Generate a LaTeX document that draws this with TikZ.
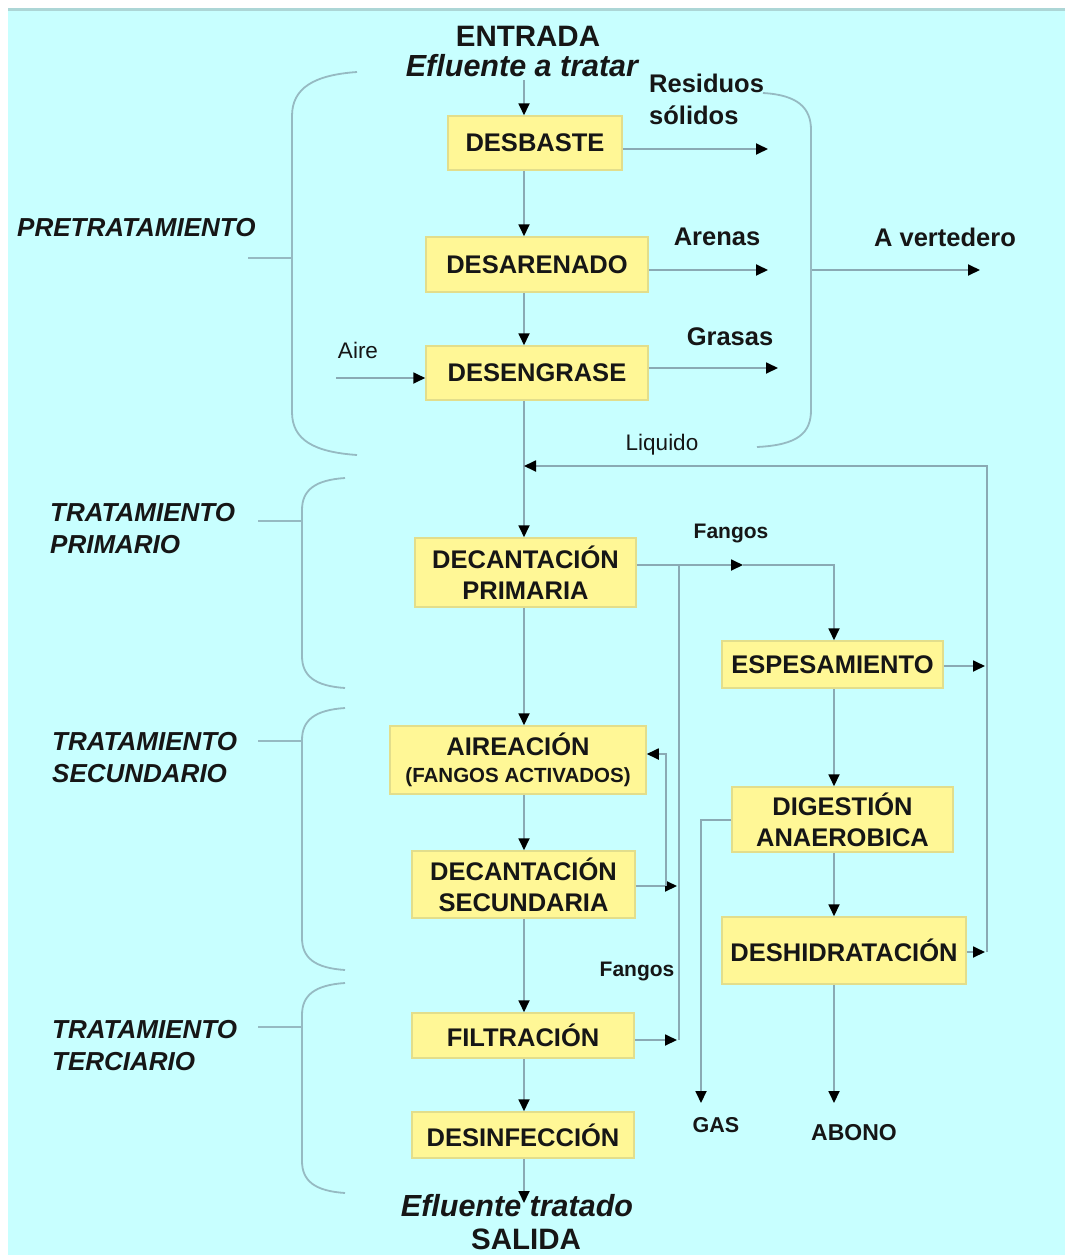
\documentclass[tikz,border=0pt]{standalone}
\usepackage{fontspec}
\setmainfont{Liberation Sans}
\usetikzlibrary{arrows.meta}
\definecolor{bgc}{RGB}{200,255,255}
\definecolor{topc}{RGB}{172,214,214}
\definecolor{boxfill}{RGB}{255,247,150}
\definecolor{boxedge}{RGB}{226,222,140}
\definecolor{linec}{RGB}{138,170,180}
\definecolor{bracec}{RGB}{150,186,194}
\definecolor{txt}{RGB}{22,22,22}
\begin{document}
\begin{tikzpicture}[x=1pt,y=-1pt,
  box/.style={draw=boxedge, line width=1.5pt, fill=boxfill, inner sep=0pt, align=center, text=txt,
    font=\fontsize{25.5}{31}\selectfont\bfseries},
  conn/.style={draw=linec, line width=1.8pt},
  arr/.style={conn, -{Triangle[length=12pt,width=11pt,color=black]}},
  brace/.style={draw=bracec, line width=1.8pt},
  lab/.style={inner sep=0pt, text=txt, font=\fontsize{25.5}{32}\selectfont\bfseries},
  labr/.style={inner sep=0pt, text=txt, font=\fontsize{22.5}{26}\selectfont},
  labs/.style={inner sep=0pt, text=txt, font=\fontsize{21}{26}\selectfont\bfseries},
  stage/.style={inner sep=0pt, text=txt, anchor=west, align=left, font=\fontsize{26}{32}\selectfont\bfseries\itshape},
  title/.style={inner sep=0pt, text=txt, font=\fontsize{29.5}{34}\selectfont\bfseries},
  eff/.style={inner sep=0pt, text=txt, font=\fontsize{30.5}{34}\selectfont\bfseries\itshape}
]
\useasboundingbox (0,0) rectangle (1065,1255);
\fill[white] (0,0) rectangle (1065,1255);
\fill[bgc] (8,8) rectangle (1065,1255);
\fill[topc] (8,8) rectangle (1065,11);

% ---------- boxes ----------
\node[box, minimum width=174pt, minimum height=54pt] (desbaste) at (535,143) {DESBASTE};
\node[box, minimum width=222pt, minimum height=55pt] (desarenado) at (537,264.5) {DESARENADO};
\node[box, minimum width=222pt, minimum height=54pt] (desengrase) at (537,373) {DESENGRASE};
\node[box, minimum width=221pt, minimum height=69pt] (decprim) at (525.5,572.5) {DECANTACIÓN\\PRIMARIA};
\node[box, minimum width=256pt, minimum height=68pt] (aireacion) at (518,760) {AIREACIÓN\\[-4pt]{\fontsize{20.5}{24}\selectfont (FANGOS ACTIVADOS)}};
\node[box, minimum width=223pt, minimum height=67pt] (decsec) at (523.5,884.5) {DECANTACIÓN\\SECUNDARIA};
\node[box, minimum width=222pt, minimum height=45pt] (filtracion) at (523,1035.5) {FILTRACIÓN};
\node[box, minimum width=222pt, minimum height=46pt] (desinfeccion) at (523,1135) {DESINFECCIÓN};
\node[box, minimum width=221pt, minimum height=47pt] (espesamiento) at (832.5,664.5) {ESPESAMIENTO};
\node[box, minimum width=221pt, minimum height=65pt] (digestion) at (842.5,819.5) {DIGESTIÓN\\ANAEROBICA};
\node[box, minimum width=244pt, minimum height=67pt] (deshidratacion) at (844,950.5) {DESHIDRATACIÓN};

% ---------- coordinates ----------
\coordinate (mx) at (524,0);
\coordinate (in) at (524,80);
\coordinate (r1) at (768,149);
\coordinate (r2) at (768,270);
\coordinate (r3) at (778,368);
\coordinate (vb) at (811,270);
\coordinate (ve) at (980,270);
\coordinate (airein) at (336,378);
\coordinate (liqL) at (524,466);
\coordinate (liqR) at (987,466);
\coordinate (liqB) at (987,952);
\coordinate (fa) at (743,565);
\coordinate (fb) at (834,565);
\coordinate (fv1) at (679,565);
\coordinate (fv2) at (679,1040);
\coordinate (dsa) at (677,886);
\coordinate (fia) at (677,1040);
\coordinate (rc1) at (666,886);
\coordinate (rc2) at (666,754);
\coordinate (espa) at (985,666);
\coordinate (desha) at (985,952);
\coordinate (g1) at (701,820);
\coordinate (g2) at (701,1103);
\coordinate (ab) at (834,1103);
\coordinate (outp) at (524,1203);

% ---------- connectors: main line ----------
\draw[arr] (in) -- (in |- desbaste.north);
\draw[arr] (desbaste.south -| mx) -- (desarenado.north -| mx);
\draw[arr] (desarenado.south -| mx) -- (desengrase.north -| mx);
\draw[arr] (desengrase.south -| mx) -- (decprim.north -| mx);
\draw[arr] (decprim.south -| mx) -- (aireacion.north -| mx);
\draw[arr] (aireacion.south -| mx) -- (decsec.north -| mx);
\draw[arr] (decsec.south -| mx) -- (filtracion.north -| mx);
\draw[arr] (filtracion.south -| mx) -- (desinfeccion.north -| mx);
\draw[arr] (desinfeccion.south -| mx) -- (outp);

% pretreatment outputs
\draw[arr] (desbaste.east |- r1) -- (r1);
\draw[arr] (desarenado.east |- r2) -- (r2);
\draw[arr] (desengrase.east |- r3) -- (r3);
\draw[arr] (vb) -- (ve);
\draw[arr] (airein) -- (desengrase.west |- airein);

% liquid return
\draw[arr] (liqB) -- (liqR) -- (liqL);
\draw[arr] (espesamiento.east |- espa) -- (espa);
\draw[arr] (deshidratacion.east |- desha) -- (desha);

% sludge line
\draw[arr] (decprim.east |- fa) -- (fa);
\draw[arr] (fa) -- (fb) -- (espesamiento.north -| fb);
\draw[conn] (fv1) -- (fv2);
\draw[arr] (decsec.east |- dsa) -- (dsa);
\draw[arr] (filtracion.east |- fia) -- (fia);
\draw[arr] (rc1) -- (rc2) -- (aireacion.east |- rc2);
\draw[arr] (espesamiento.south -| fb) -- (digestion.north -| fb);
\draw[arr] (digestion.south -| fb) -- (deshidratacion.north -| fb);
\draw[arr] (deshidratacion.south -| fb) -- (ab);
\draw[arr] (digestion.west |- g1) -- (g1) -- (g2);

% ---------- braces ----------
\coordinate (bp1) at (357,72);
\coordinate (bp2) at (357,455);
\coordinate (tp1) at (248,258);
\coordinate (tp2) at (292,258);
\draw[brace] (bp1) .. controls (314,75) and (292,88) .. (292,116) -- (292,412) .. controls (292,440) and (314,452) .. (bp2);
\draw[brace] (tp1) -- (tp2);

\coordinate (rb1) at (763,93);
\coordinate (rb2) at (757,447);
\draw[brace] (rb1) .. controls (798,95) and (811,108) .. (811,130) -- (811,410) .. controls (811,433) and (798,445) .. (rb2);

\coordinate (b11) at (345,478);
\coordinate (b12) at (345,688);
\coordinate (t11) at (258,521);
\coordinate (t12) at (302,521);
\draw[brace] (b11) .. controls (315,480) and (302,490) .. (302,510) -- (302,656) .. controls (302,676) and (315,686) .. (b12);
\draw[brace] (t11) -- (t12);

\coordinate (b21) at (345,708);
\coordinate (b22) at (345,970);
\coordinate (t21) at (258,741);
\coordinate (t22) at (302,741);
\draw[brace] (b21) .. controls (315,710) and (302,720) .. (302,740) -- (302,938) .. controls (302,958) and (315,968) .. (b22);
\draw[brace] (t21) -- (t22);

\coordinate (b31) at (345,983);
\coordinate (b32) at (345,1193);
\coordinate (t31) at (258,1027);
\coordinate (t32) at (302,1027);
\draw[brace] (b31) .. controls (315,985) and (302,995) .. (302,1015) -- (302,1161) .. controls (302,1181) and (315,1191) .. (b32);
\draw[brace] (t31) -- (t32);

% ---------- texts ----------
\node[title] (entrada) at (528,36) {ENTRADA};
\node[eff] (eflin) at (522,66) {Efluente a tratar};
\node[eff] (eflout) at (517,1206) {Efluente tratado};
\node[title] (salida) at (526,1239) {SALIDA};

\node[lab, anchor=west, align=left] (residuos) at (649,99) {Residuos\\sólidos};
\node[lab] (arenas) at (717,237) {Arenas};
\node[lab] (grasas) at (730,337) {Grasas};
\node[lab] (vertedero) at (945,237) {A vertedero};
\node[labr] (aire) at (358,350) {Aire};
\node[labr] (liquido) at (662,445) {Liquido};
\node[labs] (fangos1) at (731,533) {Fangos};
\node[labs] (fangos2) at (637,971) {Fangos};
\node[labs, font=\fontsize{21.5}{26}\selectfont\bfseries] (gas) at (716,1125) {GAS};
\node[labs, font=\fontsize{23}{26}\selectfont\bfseries] (abono) at (854,1133) {ABONO};

\node[stage] (pre) at (17,228) {PRETRATAMIENTO};
\node[stage] (prim) at (50,529) {TRATAMIENTO\\PRIMARIO};
\node[stage] (sec) at (52,758) {TRATAMIENTO\\SECUNDARIO};
\node[stage] (ter) at (52,1046) {TRATAMIENTO\\TERCIARIO};
\end{tikzpicture}
\end{document}
